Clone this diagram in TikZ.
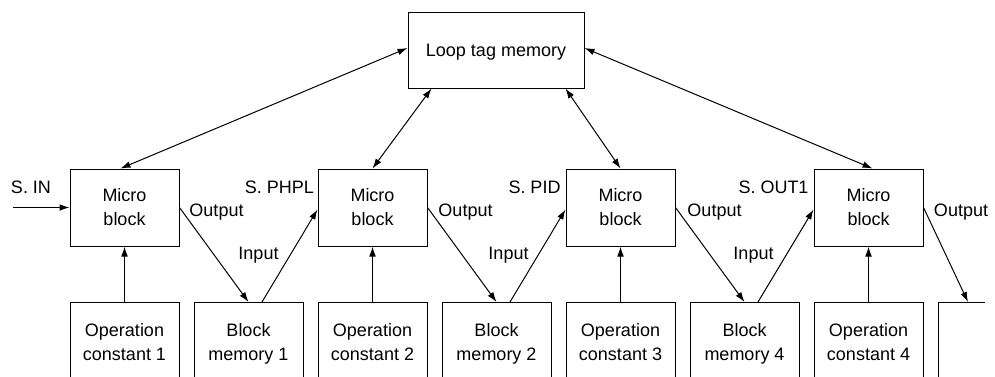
\documentclass[tikz,border=0pt]{standalone}
\usepackage{fontspec}
\setmainfont{Liberation Sans}
\usetikzlibrary{arrows.meta,calc}
\newcommand\bxs{\rule[-4.15pt]{0pt}{17.3pt}}
\begin{document}
\begin{tikzpicture}[x=0.75pt,y=-0.75pt,
  every node/.style={font=\fontsize{13.5}{17.3}\selectfont},
  box/.style={draw, line width=0.75pt, align=center, inner sep=0pt},
  mb/.style={box, minimum width={109*0.75pt}, minimum height={77*0.75pt}},
  lowbox/.style={box, minimum width={109*0.75pt}, minimum height={80*0.75pt}, anchor=north},
  lbl/.style={inner sep=0pt},
  arr/.style={line width=0.75pt, -{Latex[length=7.5pt,width=5pt]}},
  darr/.style={line width=0.75pt, {Latex[length=7.5pt,width=5pt]}-{Latex[length=7.5pt,width=5pt]}}]
\clip (0,0) rectangle (995,376);
\fill[white] (0,0) rectangle (995,376);
% loop tag memory
\node[box, minimum width={176*0.75pt}, minimum height={76*0.75pt}] (L) at (496,50) {\bxs Loop tag memory};
% micro blocks
\node[mb] (m1) at (124.5,207.5) {\bxs Micro\\\bxs block};
\node[mb] (m2) at (372.5,207.5) {\bxs Micro\\\bxs block};
\node[mb] (m3) at (620.5,207.5) {\bxs Micro\\\bxs block};
\node[mb] (m4) at (868.5,207.5) {\bxs Micro\\\bxs block};
% lower boxes
\node[lowbox] (c1) at (124.5,302) {\bxs Operation\\\bxs constant 1};
\node[lowbox] (b1) at (248.5,302) {\bxs Block\\\bxs memory 1};
\node[lowbox] (c2) at (372.5,302) {\bxs Operation\\\bxs constant 2};
\node[lowbox] (b2) at (496.5,302) {\bxs Block\\\bxs memory 2};
\node[lowbox] (c3) at (620.5,302) {\bxs Operation\\\bxs constant 3};
\node[lowbox] (b4) at (744.5,302) {\bxs Block\\\bxs memory 4};
\node[lowbox] (c4) at (868.5,302) {\bxs Operation\\\bxs constant 4};
% partial last box
\coordinate (p5) at (938,302);
\coordinate (b5) at (968,302);
\draw[line width=0.75pt] (938,380) -- (p5) -- (985,302);
% S. IN input
\coordinate (sin) at (13,207.5);
\draw[arr] (sin) -- (m1.west);
% constants to micro blocks
\foreach \c/\m in {c1/m1,c2/m2,c3/m3,c4/m4}
  \draw[arr] (\c.north) -- (\m.south);
% outputs
\draw[arr] (m1.east) -- (b1.north);
\draw[arr] (m2.east) -- (b2.north);
\draw[arr] (m3.east) -- (b4.north);
\draw[arr] (m4.east) -- (b5);
% inputs
\draw[arr] ($(b1.north)+(13.5,0)$) -- ($(m2.west)+(0,2)$);
\draw[arr] ($(b2.north)+(13.5,0)$) -- ($(m3.west)+(0,2)$);
\draw[arr] ($(b4.north)+(13.5,0)$) -- ($(m4.west)+(0,2)$);
% loop tag memory links
\draw[darr] ($(L.west)+(0,-2)$) -- ($(m1.north)+(-4,0)$);
\draw[darr] ($(L.south west)+(24,0)$) -- (m2.north);
\draw[darr] ($(L.south east)+(-19,0)$) -- (m3.north);
\draw[darr] ($(L.east)+(0,-2)$) -- ($(m4.north)+(4,0)$);
% labels
\node[lbl] (lsin) at (31,187) {S. IN};
\node[lbl] (lphpl) at (279.5,187) {S. PHPL};
\node[lbl] (lpid) at (534.5,187) {S. PID};
\node[lbl] (lout1) at (773.5,187) {S. OUT1};
\node[lbl] (o1) at (216.5,212) {Output};
\node[lbl] (o2) at (465.5,212) {Output};
\node[lbl] (o3) at (714.5,212) {Output};
\node[lbl] (o4) at (961,212) {Output};
\node[lbl] (i1) at (258.5,255) {Input};
\node[lbl] (i2) at (508.5,255) {Input};
\node[lbl] (i3) at (753.5,255) {Input};
\end{tikzpicture}
\end{document}
